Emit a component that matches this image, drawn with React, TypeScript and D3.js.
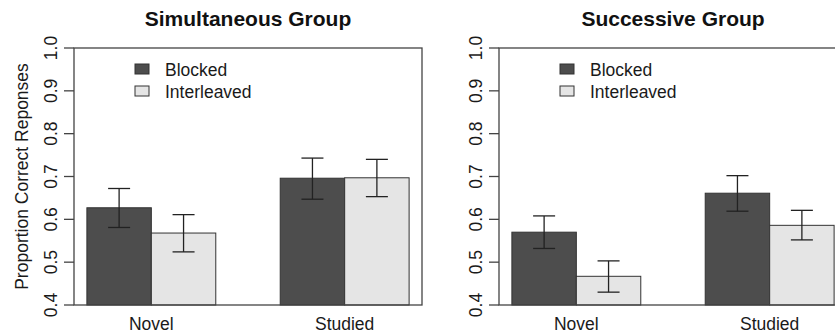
import React, { useEffect, useRef } from "react";
import * as d3 from "d3";

const categories = ["Novel", "Studied"];
const seriesNames = ["Blocked", "Interleaved"];
const yTicks = [0.4, 0.5, 0.6, 0.7, 0.8, 0.9, 1.0];

// Simultaneous group
const simBlocked = [0.627, 0.696];
const simBlockedLo = [0.581, 0.647];
const simBlockedHi = [0.672, 0.743];
const simInterleaved = [0.568, 0.697];
const simInterleavedLo = [0.524, 0.653];
const simInterleavedHi = [0.611, 0.740];

// Successive group
const sucBlocked = [0.570, 0.661];
const sucBlockedLo = [0.532, 0.619];
const sucBlockedHi = [0.608, 0.702];
const sucInterleaved = [0.467, 0.586];
const sucInterleavedLo = [0.430, 0.552];
const sucInterleavedHi = [0.503, 0.621];

const fills = ["#4d4d4d", "#e5e5e5"];
const font = "'Liberation Sans', Arial, sans-serif";
const fs = 17.5;

function drawPanel(svg, opts) {
  const { left, right, title, yLabel, vals, lo, hi } = opts;
  const top = 48, bottom = 305;

  const y = d3.scaleLinear().domain([0.4, 1.0]).range([bottom, top]);
  // bar units like R's barplot(beside = TRUE, space = c(0, 1))
  const x = d3.scaleLinear().domain([0.8, 6.2]).range([left, right]);

  const g = svg.append("g");

  // bars + error bars
  categories.forEach((cat, ci) => {
    seriesNames.forEach((s, si) => {
      const x0 = 1 + ci * 3 + si;
      const v = vals[si][ci];
      g.append("rect")
        .attr("x", x(x0))
        .attr("y", y(v))
        .attr("width", x(x0 + 1) - x(x0))
        .attr("height", y(0.4) - y(v))
        .attr("fill", fills[si])
        .attr("stroke", "#333")
        .attr("stroke-width", 1);

      const cx = x(x0 + 0.5);
      const capHalf = 11;
      const eb = g.append("g").attr("stroke", "#222").attr("stroke-width", 1.3);
      eb.append("line").attr("x1", cx).attr("x2", cx)
        .attr("y1", y(lo[si][ci])).attr("y2", y(hi[si][ci]));
      eb.append("line").attr("x1", cx - capHalf).attr("x2", cx + capHalf)
        .attr("y1", y(lo[si][ci])).attr("y2", y(lo[si][ci]));
      eb.append("line").attr("x1", cx - capHalf).attr("x2", cx + capHalf)
        .attr("y1", y(hi[si][ci])).attr("y2", y(hi[si][ci]));
    });

    g.append("text")
      .attr("x", x(ci * 3 + 2))
      .attr("y", 330)
      .attr("text-anchor", "middle")
      .attr("font-family", font)
      .attr("font-size", fs)
      .attr("fill", "#1a1a1a")
      .text(cat);
  });

  // frame
  g.append("rect")
    .attr("x", left)
    .attr("y", top)
    .attr("width", right - left)
    .attr("height", bottom - top)
    .attr("fill", "none")
    .attr("stroke", "#444")
    .attr("stroke-width", 1.3);

  // y axis ticks and rotated labels
  yTicks.forEach(t => {
    g.append("line")
      .attr("x1", left - 10).attr("x2", left)
      .attr("y1", y(t)).attr("y2", y(t))
      .attr("stroke", "#444").attr("stroke-width", 1.3);
    g.append("text")
      .attr("transform", `translate(${left - 17}, ${y(t)}) rotate(-90)`)
      .attr("text-anchor", "middle")
      .attr("font-family", font)
      .attr("font-size", fs)
      .attr("fill", "#1a1a1a")
      .text(t.toFixed(1));
  });

  // title
  g.append("text")
    .attr("x", (left + right) / 2)
    .attr("y", 26)
    .attr("text-anchor", "middle")
    .attr("font-family", font)
    .attr("font-size", 21)
    .attr("font-weight", "bold")
    .attr("fill", "#111")
    .text(title);

  if (yLabel) {
    g.append("text")
      .attr("transform", `translate(28, ${(top + bottom) / 2}) rotate(-90)`)
      .attr("text-anchor", "middle")
      .attr("font-family", font)
      .attr("font-size", fs)
      .attr("fill", "#1a1a1a")
      .text(yLabel);
  }

  // legend
  seriesNames.forEach((s, si) => {
    const ly = 64 + si * 22;
    g.append("rect")
      .attr("x", left + 61)
      .attr("y", ly)
      .attr("width", 14)
      .attr("height", 10)
      .attr("fill", fills[si])
      .attr("stroke", "#333");
    g.append("text")
      .attr("x", left + 91)
      .attr("y", ly + 12)
      .attr("font-family", font)
      .attr("font-size", fs)
      .attr("fill", "#1a1a1a")
      .text(s);
  });
}

export default function App() {
  const ref = useRef(null);

  useEffect(() => {
    const svg = d3.select(ref.current);
    svg.selectAll("*").remove();

    drawPanel(svg, {
      left: 74, right: 422,
      title: "Simultaneous Group",
      yLabel: "Proportion Correct Reponses",
      vals: [simBlocked, simInterleaved],
      lo: [simBlockedLo, simInterleavedLo],
      hi: [simBlockedHi, simInterleavedHi],
    });

    drawPanel(svg, {
      left: 499, right: 847,
      title: "Successive Group",
      yLabel: null,
      vals: [sucBlocked, sucInterleaved],
      lo: [sucBlockedLo, sucInterleavedLo],
      hi: [sucBlockedHi, sucInterleavedHi],
    });
  }, []);

  return (
    <svg
      ref={ref}
      width={835}
      height={334}
      style={{ position: "absolute", left: 0, top: 0, background: "#fff" }}
    />
  );
}
